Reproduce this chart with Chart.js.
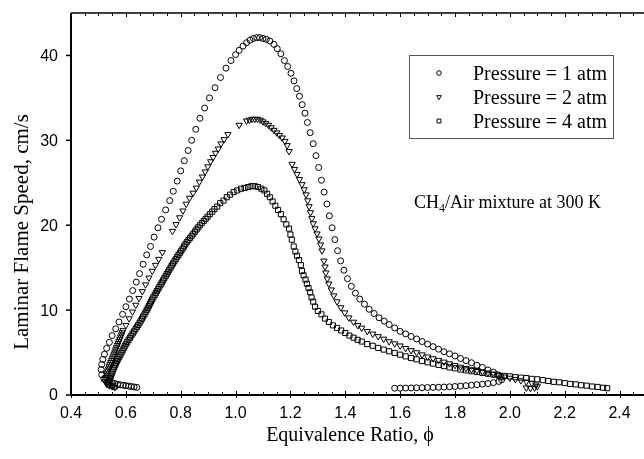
<!DOCTYPE html>
<html>
<head>
<meta charset="utf-8">
<script src="https://cdn.jsdelivr.net/npm/chart.js@4.4.1/dist/chart.umd.min.js"></script>
<style>
    html, body { margin: 0; padding: 0; background: #fff; overflow: hidden; }
    #wrap { width: 644px; height: 459px; overflow: hidden; }
</style>
</head>
<body>
<div id="wrap"><canvas id="chart" width="652" height="459"></canvas></div>
<script>
// Tick labels
const xTickLabels = ['0.4', '0.6', '0.8', '1.0', '1.2', '1.4', '1.6', '1.8', '2.0', '2.2', '2.4'];
const yTickLabels = ['0', '10', '20', '30', '40'];

// Series: [equivalence ratio, laminar flame speed cm/s]
const atm1 = [
    [0.64,0.9],[0.63,0.95],[0.62,1.0],[0.61,1.05],[0.60,1.1],[0.59,1.15],[0.58,1.2],[0.57,1.25],[0.56,1.35],[0.55,1.45],
    [0.535,1.6],[0.52,1.9],[0.512,2.4],[0.51,3.0],[0.512,3.6],[0.516,4.2],[0.522,4.8],[0.53,5.5],[0.54,6.2],[0.55,7.0],
    [0.563,7.8],[0.575,8.6],[0.588,9.5],[0.60,10.4],[0.613,11.3],[0.625,12.3],[0.638,13.3],[0.65,14.3],[0.663,15.4],[0.676,16.5],
    [0.69,17.5],[0.703,18.6],[0.717,19.7],[0.73,20.7],[0.745,21.8],[0.76,22.9],[0.773,24.0],[0.787,25.2],[0.80,26.4],[0.813,27.6],
    [0.827,28.8],[0.84,30.0],[0.855,31.3],[0.87,32.6],[0.887,33.8],[0.905,35.0],[0.925,36.2],[0.945,37.4],[0.965,38.5],[0.983,39.4],
    [1.0,40.1],[1.013,40.6],[1.027,41.1],[1.04,41.5],[1.053,41.8],[1.065,42.0],[1.077,42.1],[1.088,42.1],[1.1,42.0],[1.112,41.9],
    [1.125,41.7],[1.14,41.3],[1.152,40.8],[1.165,40.2],[1.178,39.4],[1.19,38.7],[1.202,37.9],[1.213,37.0],[1.223,36.1],[1.233,35.2],
    [1.243,34.2],[1.253,33.2],[1.262,32.1],[1.272,30.9],[1.283,29.6],[1.293,28.2],[1.303,26.8],[1.313,25.3],[1.323,23.9],[1.333,22.5],
    [1.342,21.1],[1.352,19.7],[1.362,18.3],[1.372,17.0],[1.383,15.8],[1.395,14.7],[1.408,13.7],[1.422,12.8],[1.437,12.0],[1.453,11.3],
    [1.47,10.7],[1.487,10.1],[1.505,9.6],[1.523,9.1],[1.542,8.7],[1.56,8.3],[1.58,7.9],[1.6,7.5],[1.62,7.2],[1.64,6.9],
    [1.66,6.6],[1.68,6.3],[1.7,6.0],[1.72,5.7],[1.74,5.4],[1.76,5.1],[1.78,4.85],[1.8,4.6],[1.82,4.3],[1.84,4.05],
    [1.86,3.8],[1.88,3.5],[1.9,3.25],[1.92,2.95],[1.94,2.7],[1.955,2.4],[1.968,2.1],[1.97,1.8],[1.96,1.6],[1.94,1.45],
    [1.92,1.35],[1.9,1.28],[1.88,1.22],[1.86,1.15],[1.84,1.1],[1.82,1.05],[1.8,1.0],[1.78,0.97],[1.76,0.94],[1.74,0.92],
    [1.72,0.9],[1.7,0.88],[1.68,0.86],[1.66,0.85],[1.64,0.83],[1.62,0.82],[1.6,0.8],[1.58,0.8]
];

const atm2 = [
    [0.56,0.9],[0.55,1.0],[0.54,1.1],[0.53,1.3],[0.525,1.6],[0.526,1.85],[0.528,2.1],[0.53,2.35],[0.532,2.6],[0.534,2.85],
    [0.537,3.1],[0.539,3.35],[0.542,3.6],[0.545,3.85],[0.548,4.1],[0.551,4.35],[0.554,4.6],[0.557,4.85],[0.56,5.1],[0.563,5.35],
    [0.566,5.6],[0.569,5.85],[0.572,6.1],[0.575,6.35],[0.578,6.6],[0.581,6.85],[0.584,7.1],[0.587,7.35],[0.59,7.6],
    [0.60,8.2],[0.612,9.0],[0.624,9.8],[0.636,10.6],[0.648,11.4],[0.66,12.2],[0.672,13.0],[0.684,13.8],[0.696,14.6],[0.708,15.3],
    [0.72,16.0],[0.733,16.8],
    [0.77,19.3],[0.783,20.1],[0.796,20.9],[0.808,21.7],[0.82,22.5],[0.832,23.2],[0.845,23.8],[0.857,24.4],[0.868,25.1],[0.879,25.7],
    [0.889,26.3],[0.899,26.9],[0.909,27.5],[0.918,28.0],[0.927,28.5],[0.937,29.0],[0.947,29.6],[0.958,30.1],[0.972,30.7],
    [1.013,31.8],[1.04,32.3],[1.05,32.4],[1.06,32.5],[1.07,32.5],[1.08,32.5],[1.09,32.4],[1.1,32.2],[1.11,32.0],[1.12,31.8],
    [1.13,31.5],[1.14,31.2],[1.15,30.9],[1.16,30.6],[1.17,30.3],[1.18,29.9],[1.188,29.4],[1.195,28.7],
    [1.206,27.2],[1.215,26.6],[1.224,26.0],[1.233,25.4],[1.242,24.8],[1.25,24.2],[1.257,23.6],[1.263,22.9],[1.268,22.2],[1.273,21.5],
    [1.278,20.8],[1.283,20.2],[1.29,19.6],[1.297,19.0],[1.304,18.4],[1.31,17.7],[1.315,17.0],
    [1.322,15.8],[1.326,15.1],[1.329,14.4],[1.334,13.7],[1.34,13.1],[1.349,12.4],[1.358,11.7],[1.37,11.0],[1.384,10.3],[1.398,9.7],
    [1.413,9.1],[1.43,8.6],[1.446,8.2],[1.46,7.9],[1.48,7.5],[1.5,7.2],[1.52,6.9],[1.54,6.6],[1.56,6.3],[1.58,6.05],
    [1.6,5.8],[1.62,5.5],[1.64,5.25],[1.66,5.0],[1.68,4.75],[1.7,4.5],[1.72,4.3],[1.74,4.1],[1.76,3.9],[1.78,3.7],
    [1.8,3.5],[1.82,3.3],[1.84,3.15],[1.86,3.0],[1.88,2.9],[1.9,2.75],[1.92,2.6],[1.94,2.45],[1.96,2.3],[1.98,2.15],
    [2.0,2.0],[2.02,1.85],[2.04,1.7],[2.06,1.55],[2.08,1.4],[2.095,1.2],[2.1,1.0],[2.09,0.85],[2.075,0.8],[2.06,0.85]
];

const atm4 = [
    [0.56,1.0],[0.55,1.1],[0.54,1.2],[0.535,1.35],[0.537,1.5],[0.539,1.75],[0.542,2.0],[0.545,2.25],[0.548,2.5],[0.551,2.75],
    [0.554,3.0],[0.557,3.25],[0.561,3.5],[0.564,3.75],[0.568,4.0],[0.572,4.25],[0.576,4.5],[0.58,4.75],[0.584,5.0],[0.588,5.25],
    [0.592,5.5],[0.596,5.75],[0.60,6.0],[0.605,6.25],[0.61,6.5],[0.615,6.75],[0.62,7.0],[0.625,7.25],[0.63,7.5],[0.635,7.75],
    [0.64,8.0],[0.645,8.25],[0.65,8.5],[0.654,8.75],[0.659,9.0],[0.663,9.25],[0.668,9.5],[0.672,9.75],[0.676,10.0],[0.68,10.25],
    [0.684,10.5],[0.688,10.75],[0.692,11.0],[0.696,11.25],[0.70,11.5],[0.705,11.75],[0.709,12.0],[0.713,12.25],[0.718,12.5],[0.722,12.75],
    [0.727,13.0],[0.731,13.25],[0.736,13.5],[0.74,13.75],[0.745,14.0],[0.749,14.25],[0.754,14.5],[0.758,14.75],[0.763,15.0],[0.767,15.25],
    [0.772,15.5],[0.777,15.75],[0.782,16.0],[0.787,16.25],[0.792,16.5],[0.797,16.75],[0.802,17.0],[0.807,17.25],[0.812,17.5],[0.817,17.75],
    [0.822,18.0],[0.828,18.25],[0.834,18.5],[0.84,18.75],[0.846,19.0],[0.852,19.25],[0.858,19.5],[0.864,19.75],[0.87,20.0],[0.877,20.25],
    [0.884,20.5],[0.891,20.75],[0.898,21.0],[0.906,21.3],[0.915,21.6],[0.923,21.9],[0.933,22.2],[0.944,22.6],
    [0.956,22.9],[0.968,23.3],[0.98,23.6],[0.993,23.9],[1.006,24.1],[1.02,24.3],[1.033,24.4],[1.046,24.5],[1.058,24.6],[1.07,24.6],
    [1.082,24.5],[1.094,24.3],[1.105,24.1],[1.115,23.7],[1.125,23.3],[1.135,22.8],[1.145,22.3],[1.155,21.8],[1.165,21.3],[1.175,20.7],
    [1.185,20.1],[1.195,19.6],[1.2,18.9],[1.205,18.3],[1.212,17.5],[1.218,16.9],[1.224,16.4],[1.231,15.9],[1.238,15.3],[1.242,14.6],
    [1.248,14.1],[1.255,13.6],[1.26,13.1],[1.266,12.6],[1.272,12.1],[1.277,11.5],[1.283,11.0],[1.29,10.4],[1.3,9.9],[1.313,9.5],
    [1.326,9.0],[1.34,8.6],[1.355,8.2],[1.37,7.9],[1.385,7.6],[1.4,7.3],[1.415,7.0],[1.43,6.75],[1.445,6.5],[1.46,6.3],
    [1.48,6.0],[1.5,5.8],[1.52,5.55],[1.54,5.35],[1.56,5.15],[1.58,4.95],[1.6,4.75],[1.62,4.55],[1.64,4.35],[1.66,4.2],
    [1.68,4.0],[1.7,3.85],[1.72,3.7],[1.74,3.55],[1.76,3.4],[1.78,3.25],[1.8,3.15],[1.82,3.0],[1.84,2.9],[1.86,2.8],
    [1.88,2.7],[1.9,2.6],[1.92,2.5],[1.94,2.4],[1.96,2.3],[1.98,2.25],[2.0,2.2],[2.02,2.1],[2.04,2.05],[2.06,2.0],
    [2.08,1.9],[2.1,1.85],[2.12,1.75],[2.14,1.65],[2.16,1.55],[2.18,1.5],[2.2,1.4],[2.22,1.3],[2.24,1.25],[2.26,1.15],
    [2.28,1.1],[2.3,1.0],[2.32,0.95],[2.34,0.85],[2.355,0.8]
];

const seriesNames = ['Pressure = 1 atm', 'Pressure = 2 atm', 'Pressure = 4 atm'];

function toPoints(list) {
    return list.map(function(p){ return {x: p[0], y: p[1]}; });
}

// Marker styles for each pressure
const markers = [
    {pointStyle: 'circle', radius: 3, rotation: 0},
    {pointStyle: 'triangle', radius: 3.6, rotation: 180},
    {pointStyle: 'rect', radius: 3.6, rotation: 0}
];

// Frame, ticks, labels, titles, legend box and note
const decorations = {
    id: 'decorations',
    afterDraw: function(chart) {
        var ctx = chart.ctx, a = chart.chartArea;
        var sx = chart.scales.x, sy = chart.scales.y;
        ctx.save();
        ctx.strokeStyle = '#000';
        ctx.fillStyle = '#000';

        // axis lines
        ctx.lineWidth = 2;
        ctx.beginPath();
        ctx.moveTo(a.left, a.top);
        ctx.lineTo(a.left, a.bottom);
        ctx.lineTo(a.right, a.bottom);
        ctx.stroke();
        ctx.lineWidth = 1.5;
        ctx.beginPath();
        ctx.moveTo(a.left, a.top);
        ctx.lineTo(a.right, a.top);
        ctx.stroke();

        // x ticks, minor every 0.05, major every 0.2
        ctx.lineWidth = 1;
        for (var i = 0; i <= 42; i++) {
            var v = 0.4 + i * 0.05;
            var px = Math.round(sx.getPixelForValue(v)) + 0.5;
            var major = (i % 4 === 0);
            ctx.beginPath();
            ctx.moveTo(px, a.bottom - (major ? 4 : 3));
            ctx.lineTo(px, a.bottom + (major ? 3 : 0));
            ctx.moveTo(px, a.top);
            ctx.lineTo(px, a.top + (major ? 4 : 3));
            ctx.stroke();
        }
        // y ticks, outside
        ctx.lineWidth = 1.5;
        yTickLabels.forEach(function(t){
            var py = sy.getPixelForValue(parseFloat(t));
            ctx.beginPath();
            ctx.moveTo(a.left - 5, py);
            ctx.lineTo(a.left, py);
            ctx.stroke();
        });

        // tick labels
        ctx.font = '16px "Liberation Sans"';
        ctx.textBaseline = 'middle';
        ctx.textAlign = 'right';
        yTickLabels.forEach(function(t){
            ctx.fillText(t, 58, sy.getPixelForValue(parseFloat(t)) + 1);
        });
        ctx.textAlign = 'center';
        xTickLabels.forEach(function(t){
            ctx.fillText(t, sx.getPixelForValue(parseFloat(t)), 414);
        });

        // axis titles
        ctx.font = '20px "Liberation Serif"';
        ctx.textBaseline = 'alphabetic';
        ctx.fillText('Equivalence Ratio, \u03D5', 350, 441);
        ctx.save();
        ctx.translate(28, 232);
        ctx.rotate(-Math.PI / 2);
        ctx.font = '21px "Liberation Serif"';
        ctx.fillText('Laminar Flame Speed, cm/s', 0, 0);
        ctx.restore();

        // legend box
        ctx.strokeStyle = '#555';
        ctx.lineWidth = 1;
        ctx.strokeRect(409.5, 55.5, 204, 83);
        ctx.font = '20px "Liberation Serif"';
        ctx.textAlign = 'left';
        seriesNames.forEach(function(name, k){
            var cy = 73 + k * 24;
            ctx.strokeStyle = '#000';
            ctx.fillStyle = 'rgba(0,0,0,0)';
            Chart.helpers.drawPoint(ctx, {
                pointStyle: markers[k].pointStyle,
                radius: markers[k].radius * 0.75,
                rotation: markers[k].rotation,
                borderWidth: 1
            }, 439, cy);
            ctx.fillStyle = '#000';
            ctx.fillText(name, 473, cy + 7);
        });

        // note
        ctx.font = '18px "Liberation Serif"';
        var x0 = 414, base = 208;
        ctx.fillText('CH', x0, base);
        var w = ctx.measureText('CH').width;
        ctx.font = '12px "Liberation Serif"';
        ctx.fillText('4', x0 + w, base + 4);
        var w2 = ctx.measureText('4').width;
        ctx.font = '18px "Liberation Serif"';
        ctx.fillText('/Air mixture at 300 K', x0 + w + w2, base);

        ctx.restore();
    }
};

const datasets = [atm1, atm2, atm4].map(function(list, k){
    return {
        label: seriesNames[k],
        data: toPoints(list),
        pointStyle: markers[k].pointStyle,
        pointRadius: markers[k].radius,
        pointRotation: markers[k].rotation,
        pointBorderWidth: 1,
        borderColor: '#000',
        backgroundColor: 'rgba(0,0,0,0)',
        showLine: false
    };
});

new Chart(document.getElementById('chart'), {
    type: 'scatter',
    data: { datasets: datasets },
    options: {
        responsive: false,
        devicePixelRatio: 1,
        animation: false,
        layout: { padding: { left: 0, right: 2.5, top: 13, bottom: 0 } },
        plugins: { legend: { display: false }, tooltip: { enabled: false } },
        scales: {
            x: {
                type: 'linear', min: 0.4, max: 2.5,
                grid: { display: false }, border: { display: false },
                ticks: { display: false },
                afterBuildTicks: function(s){
                    s.ticks = xTickLabels.map(function(t){ return {value: parseFloat(t)}; });
                },
                afterFit: function(s){ s.height = 64; }
            },
            y: {
                type: 'linear', min: 0, max: 45,
                grid: { display: false }, border: { display: false },
                ticks: { display: false },
                afterBuildTicks: function(s){
                    s.ticks = yTickLabels.map(function(t){ return {value: parseFloat(t)}; });
                },
                afterFit: function(s){ s.width = 71; }
            }
        }
    },
    plugins: [decorations]
});
</script>
</body>
</html>
